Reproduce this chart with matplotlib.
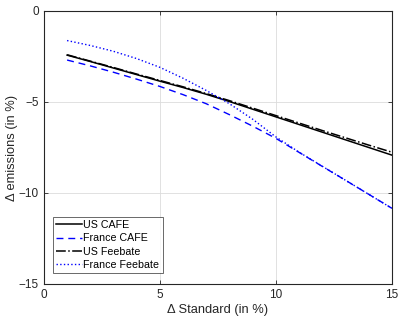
import matplotlib
matplotlib.use("Agg")
import matplotlib.pyplot as plt

plt.rcParams['font.family'] = ['Liberation Sans', 'DejaVu Sans']

standard = [1, 2, 3, 4, 5, 6, 7, 8, 9, 10, 11, 12, 13, 14, 15]
us_cafe = [-2.43, -2.78, -3.14, -3.5, -3.86, -4.21, -4.58, -4.98, -5.4, -5.82,
           -6.24, -6.66, -7.08, -7.5, -7.92]
france_cafe = [-2.7, -3.02, -3.37, -3.75, -4.15, -4.6, -5.1, -5.7, -6.33, -7.0,
               -7.77, -8.54, -9.3, -10.07, -10.84]
us_feebate = [-2.41, -2.76, -3.11, -3.47, -3.82, -4.17, -4.54, -4.93, -5.34, -5.75,
              -6.16, -6.57, -6.97, -7.37, -7.76]
france_feebate = [-1.63, -1.9, -2.22, -2.62, -3.1, -3.7, -4.37, -5.1, -5.95, -6.92,
                  -7.76, -8.53, -9.3, -10.07, -10.84]

fig = plt.figure(figsize=(3.99, 3.2), dpi=100)
ax = fig.add_axes([0.110, 0.1125, 0.872, 0.8535])

ax.plot(standard, us_cafe, color='black', lw=1.1, label='US CAFE')
ax.plot(standard, france_cafe, color='blue', lw=1.0, dashes=(5, 3.5), label='France CAFE')
ax.plot(standard, us_feebate, color='black', lw=1.1, linestyle='-.', label='US Feebate')
ax.plot(standard, france_feebate, color='blue', lw=1.0, linestyle=':', label='France Feebate')

ax.set_xlim(0, 15)
ax.set_ylim(-15, 0)
ax.set_xticks([0, 5, 10, 15])
ax.set_yticks([-15, -10, -5, 0])
ax.grid(True, color='#dcdcdc', lw=0.6)
ax.set_axisbelow(True)
ax.tick_params(direction='in', labelsize=8.5, colors='#262626', length=3, width=0.6,
               top=True, right=True)
for s in ax.spines.values():
    s.set_color('#262626')
    s.set_linewidth(0.8)

ax.set_xlabel('Δ Standard (in %)', fontsize=9.3, color='#262626', labelpad=2)
ax.set_ylabel('Δ emissions (in %)', fontsize=9.3, color='#262626', labelpad=1)

leg = ax.legend(loc='lower left', fontsize=7.7, frameon=True, fancybox=False,
                handlelength=2.4, handletextpad=0.15, borderpad=0.3, labelspacing=0.3,
                borderaxespad=0.0, bbox_to_anchor=(0.026, 0.04))
leg.get_frame().set_edgecolor('#262626')
leg.get_frame().set_linewidth(0.6)

fig.savefig('out.png', dpi=100)
